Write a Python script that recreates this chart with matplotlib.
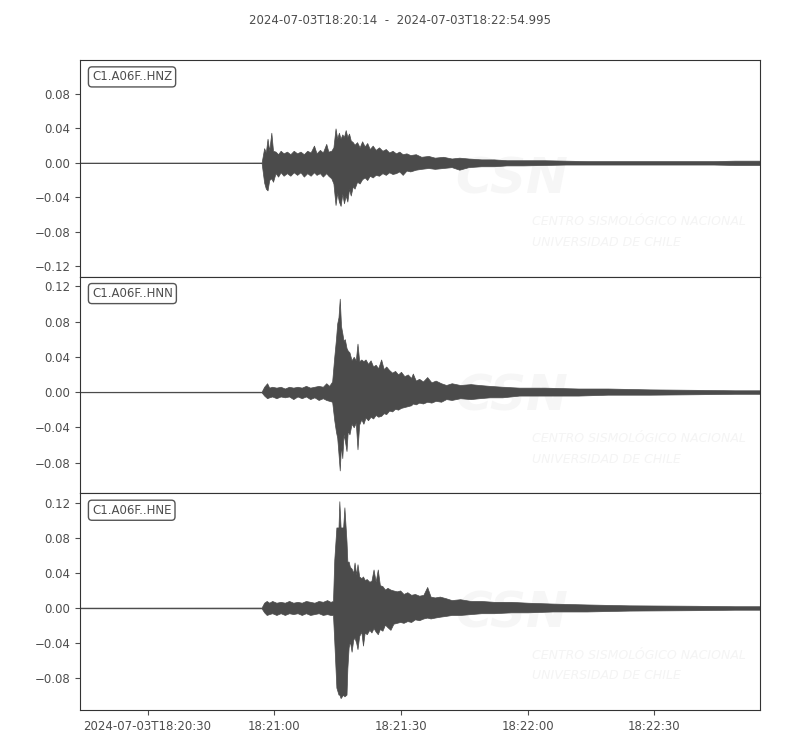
import numpy as np
import matplotlib.pyplot as plt
from matplotlib.ticker import MultipleLocator

# seconds after 2024-07-03T18:20:14, envelope (max / min)
t_hnz = [0, 43.0, 43.6, 44.0, 44.4, 44.8, 45.3, 45.7, 46.3, 46.9, 47.5, 48.2, 49.0, 49.8,
         50.6, 51.4, 52.2, 53.0, 53.8, 54.6, 55.4, 56.0, 56.8, 57.5, 58.3, 58.8, 59.5, 60.0,
         60.5, 60.9, 61.3, 61.7, 62.1, 62.5, 62.9, 63.3, 63.7, 64.1, 64.6, 65.0, 65.6, 66.2,
         66.8, 67.4, 68.0, 68.6, 69.3, 70.0, 70.8, 71.6, 72.4, 73.2, 74.0, 74.8, 75.6, 76.4,
         77.3, 78.2, 79.5, 80.8, 82.5, 84.0, 86.0, 88.0, 89.8, 92.0, 95.0, 98.0, 101, 105,
         110, 115, 120, 130, 140, 150, 155, 161]
up_hnz = [0.0003, 0.0004, 0.017, 0.012, 0.028, 0.014, 0.035, 0.014, 0.013, 0.010, 0.014,
          0.011, 0.013, 0.010, 0.014, 0.011, 0.013, 0.010, 0.014, 0.012, 0.020, 0.011,
          0.015, 0.012, 0.022, 0.013, 0.014, 0.018, 0.040, 0.028, 0.035, 0.028, 0.033,
          0.030, 0.038, 0.030, 0.034, 0.026, 0.024, 0.021, 0.024, 0.018, 0.025, 0.019,
          0.023, 0.016, 0.020, 0.015, 0.018, 0.014, 0.016, 0.012, 0.014, 0.011, 0.013,
          0.010, 0.011, 0.009, 0.010, 0.007, 0.008, 0.006, 0.007, 0.005, 0.006, 0.005,
          0.004, 0.004, 0.003, 0.003, 0.003, 0.0025, 0.002, 0.002, 0.002, 0.002, 0.0025,
          0.0025]
lo_hnz = [-0.0003, -0.0004, -0.023, -0.030, -0.032, -0.020, -0.018, -0.022, -0.012,
          -0.016, -0.011, -0.015, -0.012, -0.015, -0.011, -0.014, -0.011, -0.016, -0.012,
          -0.015, -0.011, -0.014, -0.012, -0.016, -0.012, -0.015, -0.018, -0.024, -0.049,
          -0.035, -0.045, -0.050, -0.036, -0.047, -0.038, -0.045, -0.030, -0.038, -0.027,
          -0.030, -0.022, -0.024, -0.019, -0.017, -0.020, -0.015, -0.017, -0.014, -0.015,
          -0.012, -0.014, -0.011, -0.013, -0.012, -0.010, -0.014, -0.009, -0.010, -0.008,
          -0.007, -0.006, -0.007, -0.006, -0.005, -0.008, -0.005, -0.004, -0.004, -0.003,
          -0.003, -0.0025, -0.002, -0.002, -0.002, -0.002, -0.002, -0.0025, -0.0025]

t_hnn = [0, 43.0, 43.6, 44.3, 44.8, 45.5, 46.5, 47.5, 48.5, 49.5, 50.5, 51.5, 52.5, 53.5,
         54.5, 55.5, 56.5, 57.5, 58.3, 59.0, 59.7, 60.2, 60.6, 60.9, 61.2, 61.5, 61.8, 62.1,
         62.4, 62.7, 63.1, 63.4, 63.8, 64.3, 64.8, 65.3, 65.7, 66.1, 66.6, 67.1, 67.6, 68.2,
         68.8, 69.4, 70.0, 70.6, 71.3, 71.9, 72.5, 73.2, 73.9, 74.6, 75.3, 76.0, 76.8, 77.6,
         78.4, 78.8, 79.5, 80.3, 81.2, 82.2, 83.2, 84.2, 85.5, 86.7, 88.0, 90.0, 92.5, 94.5,
         97.0, 100, 104, 110, 118, 125, 135, 146, 155, 161]
up_hnn = [0.0003, 0.0004, 0.006, 0.010, 0.005, 0.006, 0.005, 0.006, 0.004, 0.006, 0.005,
          0.006, 0.005, 0.007, 0.005, 0.006, 0.007, 0.006, 0.010, 0.007, 0.012, 0.040,
          0.060, 0.078, 0.085, 0.106, 0.075, 0.067, 0.058, 0.060, 0.050, 0.047, 0.045,
          0.036, 0.040, 0.036, 0.055, 0.035, 0.037, 0.035, 0.037, 0.032, 0.036, 0.029,
          0.031, 0.027, 0.037, 0.026, 0.029, 0.025, 0.022, 0.024, 0.020, 0.023, 0.018,
          0.020, 0.016, 0.021, 0.013, 0.015, 0.012, 0.017, 0.011, 0.013, 0.010, 0.008,
          0.010, 0.008, 0.009, 0.008, 0.007, 0.006, 0.005, 0.005, 0.004, 0.004, 0.003,
          0.0025, 0.002, 0.002]
lo_hnn = [-0.0003, -0.0004, -0.004, -0.007, -0.006, -0.005, -0.007, -0.005, -0.006,
          -0.005, -0.008, -0.005, -0.007, -0.005, -0.008, -0.006, -0.009, -0.007, -0.009,
          -0.010, -0.011, -0.032, -0.045, -0.052, -0.070, -0.089, -0.060, -0.075, -0.048,
          -0.055, -0.067, -0.044, -0.048, -0.036, -0.040, -0.035, -0.065, -0.037, -0.031,
          -0.036, -0.029, -0.032, -0.028, -0.030, -0.026, -0.028, -0.027, -0.024, -0.025,
          -0.021, -0.022, -0.019, -0.020, -0.018, -0.017, -0.016, -0.015, -0.013, -0.014,
          -0.012, -0.013, -0.011, -0.012, -0.010, -0.011, -0.008, -0.009, -0.007, -0.008,
          -0.007, -0.006, -0.006, -0.004, -0.004, -0.004, -0.003, -0.003, -0.0025, -0.002,
          -0.002]

t_hne = [0, 43.0, 43.6, 44.2, 44.8, 45.5, 46.5, 47.5, 48.5, 49.5, 50.5, 51.5, 52.5, 53.5,
         54.5, 55.5, 56.5, 57.5, 58.5, 59.3, 59.9, 60.2, 60.7, 61.2, 61.4, 61.7, 62.3, 62.6,
         63.1, 63.3, 63.6, 63.9, 64.3, 64.7, 65.0, 65.4, 65.7, 66.1, 66.6, 67.0, 67.4, 67.9,
         68.5, 69.0, 69.5, 70.0, 70.5, 71.0, 71.6, 72.2, 72.8, 73.5, 74.2, 75.0, 75.8, 76.6,
         77.5, 78.4, 79.3, 80.3, 81.3, 82.2, 83.0, 84.0, 85.2, 86.7, 88.0, 90.0, 92.5, 95.0,
         98.0, 102, 106, 112, 120, 130, 146, 155, 161]
up_hne = [0.0004, 0.0005, 0.006, 0.008, 0.006, 0.008, 0.006, 0.007, 0.006, 0.008, 0.006,
          0.007, 0.006, 0.008, 0.007, 0.006, 0.008, 0.007, 0.009, 0.007, 0.008, 0.055,
          0.092, 0.092, 0.122, 0.092, 0.092, 0.115, 0.076, 0.053, 0.053, 0.047, 0.045,
          0.040, 0.052, 0.038, 0.050, 0.036, 0.034, 0.036, 0.032, 0.033, 0.030, 0.031,
          0.044, 0.030, 0.044, 0.026, 0.025, 0.021, 0.023, 0.021, 0.020, 0.019, 0.020,
          0.016, 0.018, 0.015, 0.016, 0.014, 0.015, 0.024, 0.013, 0.012, 0.013, 0.011,
          0.009, 0.010, 0.008, 0.008, 0.007, 0.007, 0.006, 0.005, 0.004, 0.003, 0.0025,
          0.002, 0.002]
lo_hne = [-0.0004, -0.0005, -0.005, -0.008, -0.007, -0.006, -0.008, -0.006, -0.008,
          -0.006, -0.007, -0.006, -0.008, -0.006, -0.008, -0.007, -0.006, -0.008, -0.007,
          -0.008, -0.008, -0.038, -0.091, -0.099, -0.099, -0.103, -0.099, -0.101, -0.099,
          -0.069, -0.045, -0.038, -0.050, -0.036, -0.034, -0.040, -0.047, -0.032, -0.027,
          -0.043, -0.028, -0.030, -0.025, -0.028, -0.023, -0.027, -0.030, -0.024, -0.026,
          -0.019, -0.022, -0.025, -0.018, -0.017, -0.016, -0.017, -0.015, -0.016, -0.013,
          -0.014, -0.012, -0.011, -0.012, -0.011, -0.010, -0.009, -0.008, -0.008, -0.007,
          -0.006, -0.006, -0.005, -0.005, -0.004, -0.004, -0.003, -0.0025, -0.002, -0.002]

labels = ['C1.A06F..HNZ', 'C1.A06F..HNN', 'C1.A06F..HNE']
ylims = [(-0.1322, 0.1194), (-0.115, 0.131), (-0.1166, 0.131)]
xtick_pos = [16, 46, 76, 106, 136]
xtick_labels = ['2024-07-03T18:20:30', '18:21:00', '18:21:30', '18:22:00', '18:22:30']
duration = 160.995

traces = [(t_hnz, up_hnz, lo_hnz), (t_hnn, up_hnn, lo_hnn), (t_hne, up_hne, lo_hne)]

wave_col = '#4b4b4b'
text_col = '#4d4d4d'
plt.rcParams['font.size'] = 8.5
plt.rcParams['text.color'] = text_col
plt.rcParams['xtick.color'] = text_col
plt.rcParams['ytick.color'] = text_col

fig = plt.figure(figsize=(8, 7.5), dpi=100)
left, right, top = 0.1, 0.95, 0.92
h = (650 / 750) / 3

for i, (t, up, lo) in enumerate(traces):
    ax = fig.add_axes([left, top - (i + 1) * h, right - left, h])
    # faint CSN watermark
    ax.text(0.552, 0.447, 'CSN', transform=ax.transAxes, fontsize=36, fontstyle='italic',
            fontweight='bold', color='#f6f6f6', ha='left', va='center', zorder=0,
            clip_on=True)
    ax.text(0.665, 0.253, 'CENTRO SISMOLÓGICO NACIONAL', transform=ax.transAxes,
            fontsize=9, fontstyle='italic', color='#f4f4f4',
            ha='left', va='center', zorder=0, clip_on=True)
    ax.text(0.665, 0.157, 'UNIVERSIDAD DE CHILE', transform=ax.transAxes,
            fontsize=9, fontstyle='italic', color='#f4f4f4',
            ha='left', va='center', zorder=0, clip_on=True)
    ax.fill_between(t, lo, up, color=wave_col, lw=0.5, edgecolor=wave_col, zorder=2)
    ax.set_xlim(0, duration)
    ax.set_ylim(*ylims[i])
    ax.yaxis.set_major_locator(MultipleLocator(0.04))
    ax.yaxis.set_major_formatter(plt.FuncFormatter(lambda v, p: f'{v:.2f}'.replace('-', '\u2212')))
    for s in ax.spines.values():
        s.set_color('#333333')
        s.set_linewidth(0.8)
    ax.text(0.0176, 0.922, labels[i], transform=ax.transAxes, ha='left', va='center',
            bbox=dict(boxstyle='round,pad=0.3', fc='white', ec='#555555', lw=1.0), zorder=5)
    if i < 2:
        ax.set_xticks([])
    else:
        ax.set_xticks(xtick_pos)
        ax.set_xticklabels(xtick_labels)

fig.text(0.5, 1 - 20 / 750, '2024-07-03T18:20:14  -  2024-07-03T18:22:54.995',
         ha='center', va='center', fontsize=8.5)

fig.savefig('out.png', dpi=100)
